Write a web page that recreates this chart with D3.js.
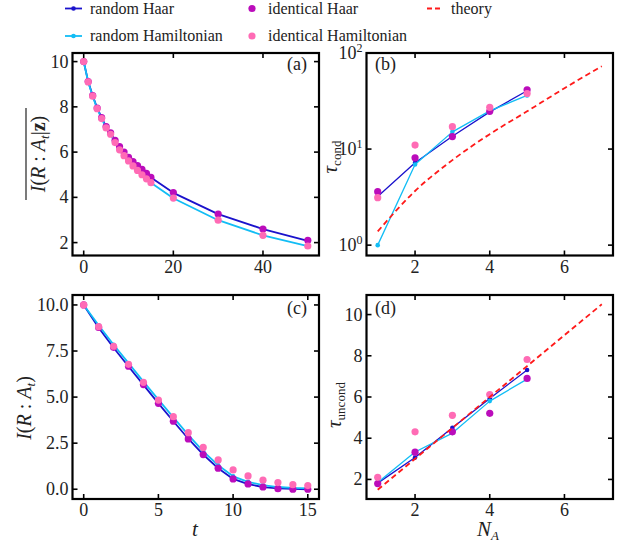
<!DOCTYPE html>
<html>
<head>
<meta charset="utf-8">
<script src="https://cdn.jsdelivr.net/npm/d3@7"></script>
<style>
  html, body { margin: 0; padding: 0; background: #fff; }
  svg { display: block; }
</style>
</head>
<body>
<svg id="fig" width="634" height="546"></svg>
<script>
// ---- (a) conditional mutual information vs t ----
const tA = [0,1,2,3,4,5,6,7,8,9,10,11,12,13,14,15,20,30,40,50];
const aRandHaar = [10,9.12,8.5,7.95,7.52,7.12,6.84,6.52,6.24,6.0,5.77,5.58,5.4,5.24,5.06,4.88,4.2,3.26,2.6,2.08];
const aRandHam  = [10,9.1,8.47,7.92,7.48,7.07,6.78,6.42,6.1,5.84,5.61,5.39,5.19,5.0,4.82,4.65,3.96,2.99,2.32,1.84];
const aIdHaar   = [10,9.12,8.5,7.95,7.52,7.13,6.85,6.52,6.24,6.0,5.77,5.58,5.4,5.24,5.06,4.88,4.21,3.26,2.6,2.1];
const aIdHam    = [10,9.1,8.47,7.92,7.48,7.07,6.79,6.42,6.1,5.84,5.61,5.39,5.19,5.0,4.82,4.65,3.97,2.99,2.32,1.85];

// ---- (b) conditional scrambling time vs N_A ----
const nB = [1,2,3,4,5];
const bRandHaar = [3.2,7.2,13.6,24.4,40.5];
const bRandHam  = [1.0,6.9,15.1,25.0,36.2];
const bIdHaar   = [3.6,8.1,13.5,24.7,41.4];
const bIdHam    = [3.12,11.0,17.1,27.2,37.9];
const nTheory = [1,2,3,4,5,6,7];
const bTheory = [1.39,3.66,7.67,14.3,24.7,43,72.8];

// ---- (c) unconditional mutual information vs t ----
const tC = [0,1,2,3,4,5,6,7,8,9,10,11,12,13,14,15];
const cRandHaar = [10,8.76,7.68,6.66,5.66,4.66,3.69,2.74,1.88,1.14,0.56,0.28,0.12,0.05,0.02,0.0];
const cRandHam  = [10,8.9,7.84,6.84,5.84,4.86,3.9,2.95,2.05,1.3,0.7,0.4,0.22,0.12,0.07,0.05];
const cIdHaar   = [10,8.78,7.7,6.68,5.68,4.66,3.69,2.73,1.88,1.14,0.56,0.29,0.12,0.03,0.0,0.0];
const cIdHam    = [10,8.82,7.76,6.78,5.8,4.84,3.94,3.07,2.27,1.59,1.05,0.72,0.49,0.36,0.25,0.2];

// ---- (d) unconditional scrambling time vs N_A ----
const nD = [1,2,3,4,5];
const dRandHaar = [1.82,3.06,4.51,5.93,7.31];
const dRandHam  = [1.85,3.33,4.25,5.8,6.87];
const dIdHaar   = [1.8,3.32,4.31,5.21,6.9];
const dIdHam    = [2.1,4.31,5.11,6.12,7.82];
const dTheory   = [1.5,3,4.5,6,7.5,9,10.5];

const legendLabels = ["random Haar","random Hamiltonian","identical Haar","identical Hamiltonian","theory"];

const C = {
  randHaar: "#1a12cc",
  randHam:  "#12bdf5",
  idHaar:   "#bb0cbb",
  idHam:    "#ff6bb5",
  theory:   "#ff1a1a"
};

// pick the first serif face that is actually installed
function pickFont(list) {
  const ctx = document.createElement("canvas").getContext("2d");
  const sample = "random Hamiltonian 0123456789";
  ctx.font = "40px monospace";
  const base = ctx.measureText(sample).width;
  for (const f of list) {
    ctx.font = `40px "${f}", monospace`;
    if (Math.abs(ctx.measureText(sample).width - base) > 0.5) return `"${f}"`;
  }
  return "serif";
}
const FONT = pickFont(["Liberation Serif", "DejaVu Serif", "Noto Serif", "Times New Roman", "FreeSerif"]);

const svg = d3.select("#fig").attr("font-family", FONT).attr("fill", "#222");
const TICK_FONT = 18;

function panel(opt) {
  const g = svg.append("g");
  const x = d3.scaleLinear().domain(opt.xDomain).range([opt.left, opt.right]);
  const y = (opt.log ? d3.scaleLog() : d3.scaleLinear()).domain(opt.yDomain).range([opt.bottom, opt.top]);

  const plot = g.append("g");
  const line = d3.line().x(d => x(d[0])).y(d => y(d[1]));
  const pairs = (xs, ys) => xs.map((v, i) => [v, ys[i]]);

  // random series: line with small markers
  [[opt.rHaar, C.randHaar], [opt.rHam, C.randHam]].forEach(([vals, col]) => {
    const pts = pairs(opt.xs, vals);
    plot.append("path").attr("d", line(pts)).attr("fill", "none")
      .attr("stroke", col).attr("stroke-width", opt.lw).attr("stroke-linejoin", "round");
    plot.selectAll(null).data(pts).enter().append("circle")
      .attr("cx", d => x(d[0])).attr("cy", d => y(d[1])).attr("r", 2.3).attr("fill", col);
  });
  // identical series: dots only
  [[opt.iHaar, C.idHaar], [opt.iHam, C.idHam]].forEach(([vals, col]) => {
    const pts = pairs(opt.xs, vals);
    plot.selectAll(null).data(pts).enter().append("circle")
      .attr("cx", d => x(d[0])).attr("cy", d => y(d[1])).attr("r", 3.6).attr("fill", col);
  });
  if (opt.theory) {
    const pts = pairs(nTheory, opt.theory);
    plot.append("path")
      .attr("d", d3.line().x(d => x(d[0])).y(d => y(d[1])).curve(d3.curveMonotoneX)(pts))
      .attr("fill", "none").attr("stroke", C.theory).attr("stroke-width", 1.8)
      .attr("stroke-dasharray", "5.5,3.5");
  }

  // inward ticks on all four sides
  const TL = 5;
  const axisG = g.append("g").attr("stroke", "#000").attr("stroke-width", 1.6);
  opt.xTicks.forEach(v => {
    axisG.append("line").attr("x1", x(v)).attr("x2", x(v)).attr("y1", opt.bottom).attr("y2", opt.bottom - TL);
    axisG.append("line").attr("x1", x(v)).attr("x2", x(v)).attr("y1", opt.top).attr("y2", opt.top + TL);
  });
  opt.yTicks.forEach(v => {
    axisG.append("line").attr("x1", opt.left).attr("x2", opt.left + TL).attr("y1", y(v)).attr("y2", y(v));
    axisG.append("line").attr("x1", opt.right).attr("x2", opt.right - TL).attr("y1", y(v)).attr("y2", y(v));
  });

  // tick labels
  opt.xTicks.forEach(v => {
    g.append("text").attr("x", x(v)).attr("y", opt.bottom + 17)
      .attr("text-anchor", "middle").attr("font-size", TICK_FONT).text(opt.xFmt ? opt.xFmt(v) : v);
  });
  opt.yTicks.forEach(v => {
    const t = g.append("text").attr("x", opt.left - 4).attr("y", y(v) + 6)
      .attr("text-anchor", "end").attr("font-size", TICK_FONT);
    if (opt.log) {
      t.append("tspan").text("10");
      t.append("tspan").attr("dy", -7).attr("font-size", 12).text(Math.round(Math.log10(v)));
    } else {
      t.text(opt.yFmt ? opt.yFmt(v) : v);
    }
  });

  // frame
  g.append("rect").attr("x", opt.left).attr("y", opt.top)
    .attr("width", opt.right - opt.left).attr("height", opt.bottom - opt.top)
    .attr("fill", "none").attr("stroke", "#000").attr("stroke-width", 2.2);

  // panel tag
  g.append("text").attr("x", opt.tag.x).attr("y", opt.tag.y)
    .attr("text-anchor", opt.tag.anchor).attr("font-size", 18).text(opt.tag.text);
  return { g, x, y };
}

const L1 = 72.5, R1 = 319, L2 = 366.5, R2 = 613;
const T1 = 53, B1 = 255.5, T2 = 295, B2 = 499;

panel({
  left: L1, right: R1, top: T1, bottom: B1,
  xDomain: [-2.5, 52.5], yDomain: [1.43, 10.38],
  xs: tA, rHaar: aRandHaar, rHam: aRandHam, iHaar: aIdHaar, iHam: aIdHam, lw: 1.8,
  xTicks: [0, 20, 40], yTicks: [2, 4, 6, 8, 10],
  tag: { x: 307, y: 70, anchor: "end", text: "(a)" }
});
panel({
  left: L2, right: R2, top: T1, bottom: B1,
  xDomain: [0.7, 7.3], yDomain: [0.78, 100], log: true,
  xs: nB, rHaar: bRandHaar, rHam: bRandHam, iHaar: bIdHaar, iHam: bIdHam, lw: 1.3,
  theory: bTheory,
  xTicks: [2, 4, 6], yTicks: [1, 10, 100],
  tag: { x: 375, y: 70, anchor: "start", text: "(b)" }
});
panel({
  left: L1, right: R1, top: T2, bottom: B2,
  xDomain: [-0.75, 15.75], yDomain: [-0.53, 10.54],
  xs: tC, rHaar: cRandHaar, rHam: cRandHam, iHaar: cIdHaar, iHam: cIdHam, lw: 1.8,
  xTicks: [0, 5, 10, 15], yTicks: [0, 2.5, 5, 7.5, 10], yFmt: d3.format(".1f"),
  tag: { x: 307, y: 314, anchor: "end", text: "(c)" }
});
panel({
  left: L2, right: R2, top: T2, bottom: B2,
  xDomain: [0.7, 7.3], yDomain: [1.05, 10.95],
  xs: nD, rHaar: dRandHaar, rHam: dRandHam, iHaar: dIdHaar, iHam: dIdHam, lw: 1.3,
  theory: dTheory,
  xTicks: [2, 4, 6], yTicks: [2, 4, 6, 8, 10],
  tag: { x: 375, y: 314, anchor: "start", text: "(d)" }
});

// ---- axis labels ----
function mutualInfo(t, withZ) {
  t.append("tspan").attr("font-style", "italic").text("I");
  t.append("tspan").text("(");
  t.append("tspan").attr("font-style", "italic").text("R");
  t.append("tspan").text(" : ");
  t.append("tspan").attr("font-style", "italic").text("A");
  t.append("tspan").attr("font-style", "italic").attr("font-size", 13).attr("dy", 4).text("t");
  if (withZ) {
    t.append("tspan").attr("dy", -4).text("|");
    t.append("tspan").attr("font-weight", "bold").text("z");
    t.append("tspan").text(")");
  } else {
    t.append("tspan").attr("dy", -4).text(")");
  }
}
// (a): overlined I(R : A_t | z)
{
  const gl = svg.append("g").attr("transform", "translate(45,154) rotate(-90)");
  const t = gl.append("text").attr("text-anchor", "middle").attr("font-size", 20);
  mutualInfo(t, true);
  gl.append("line").attr("x1", -46).attr("x2", 46).attr("y1", -19).attr("y2", -19)
    .attr("stroke", "#222").attr("stroke-width", 1.2);
}
// (c): I(R : A_t)
{
  const t = svg.append("text").attr("transform", "translate(31,408) rotate(-90)")
    .attr("text-anchor", "middle").attr("font-size", 20);
  mutualInfo(t, false);
}
// (b): tau_cond
{
  const t = svg.append("text").attr("transform", "translate(337,157) rotate(-90)")
    .attr("text-anchor", "middle").attr("font-size", 21);
  t.append("tspan").attr("font-style", "italic").text("τ");
  t.append("tspan").attr("font-size", 13).attr("dy", 4).text("cond");
}
// (d): tau_uncond
{
  const t = svg.append("text").attr("transform", "translate(341,405) rotate(-90)")
    .attr("text-anchor", "middle").attr("font-size", 21);
  t.append("tspan").attr("font-style", "italic").text("τ");
  t.append("tspan").attr("font-size", 13).attr("dy", 4).text("uncond");
}
// x labels
svg.append("text").attr("x", 195).attr("y", 536).attr("text-anchor", "middle")
  .attr("font-size", 21).attr("font-style", "italic").text("t");
{
  const t = svg.append("text").attr("x", 488).attr("y", 536).attr("text-anchor", "middle")
    .attr("font-size", 21);
  t.append("tspan").attr("font-style", "italic").text("N");
  t.append("tspan").attr("font-style", "italic").attr("font-size", 13).attr("dy", 4).text("A");
}

// ---- legend (three columns, filled column-wise) ----
{
  const lg = svg.append("g");
  const rows = [8.5, 36];
  const items = [
    { col: 0, row: 0, kind: "line", color: C.randHaar },
    { col: 0, row: 1, kind: "line", color: C.randHam },
    { col: 1, row: 0, kind: "dot", color: C.idHaar },
    { col: 1, row: 1, kind: "dot", color: C.idHam },
    { col: 2, row: 0, kind: "dash", color: C.theory }
  ];
  const handleX = [[65, 82], [244, 260], [427, 443]];
  const textX = [90, 268, 451];
  items.forEach((it, i) => {
    const yy = rows[it.row];
    const [x1, x2] = handleX[it.col];
    if (it.kind === "line") {
      lg.append("line").attr("x1", x1).attr("x2", x2).attr("y1", yy).attr("y2", yy)
        .attr("stroke", it.color).attr("stroke-width", 1.8);
      lg.append("circle").attr("cx", (x1 + x2) / 2).attr("cy", yy).attr("r", 2.3).attr("fill", it.color);
    } else if (it.kind === "dot") {
      lg.append("circle").attr("cx", (x1 + x2) / 2).attr("cy", yy).attr("r", 3.6).attr("fill", it.color);
    } else {
      lg.append("line").attr("x1", x1).attr("x2", x2).attr("y1", yy).attr("y2", yy)
        .attr("stroke", it.color).attr("stroke-width", 1.8).attr("stroke-dasharray", "5,3");
    }
    lg.append("text").attr("x", textX[it.col]).attr("y", yy + 5).attr("font-size", 16)
      .text(legendLabels[i]);
  });
}
</script>
</body>
</html>
